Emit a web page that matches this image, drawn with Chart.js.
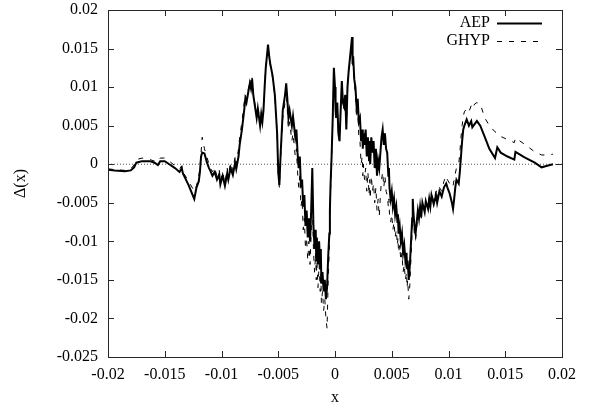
<!DOCTYPE html>
<html>
<head>
<meta charset="utf-8">
<script src="https://cdn.jsdelivr.net/npm/chart.js@4.4.1/dist/chart.umd.min.js"></script>
<style>
html,body{margin:0;padding:0;background:#fff;}
#wrap{width:591px;height:410px;}
</style>
</head>
<body>
<div id="wrap"><canvas id="c" width="591" height="410"></canvas></div>
<script>
const xValues = [
-0.0200,-0.0194,-0.0185,-0.0180,-0.0177,-0.0175,-0.0170,-0.0163,-0.0159,-0.0156,
-0.0154,-0.0150,-0.0146,-0.0141,-0.0137,-0.0135,-0.0134,-0.0129,-0.0124,-0.0122,
-0.0120,-0.0119,-0.0118,-0.0117,-0.0115,-0.0113,-0.0111,-0.0110,-0.0108,-0.0106,
-0.0104,-0.0102,-0.0101,-0.0099,-0.0097,-0.0095,-0.0094,-0.0092,-0.0090,-0.0088,
-0.0087,-0.0085,-0.0084,-0.0082,-0.0080,-0.0079,-0.0078,-0.0076,-0.0075,-0.0074,
-0.0073,-0.0072,-0.0071,-0.0069,-0.0068,-0.0066,-0.0065,-0.0064,-0.0063,-0.0062,
-0.0061,-0.0059,-0.0058,-0.0057,-0.0055,-0.0053,-0.0051,-0.0050,-0.0049,-0.0048,
-0.0046,-0.0044,-0.0043,-0.0042,-0.0041,-0.0040,-0.0038,-0.0037,-0.0035,-0.0034,
-0.0033,-0.0032,-0.0031,-0.0030,-0.0029,-0.0028,-0.0027,-0.0026,-0.0025,-0.0024,
-0.0023,-0.0022,-0.0021,-0.0020,-0.0019,-0.0018,-0.0017,-0.00165,-0.0016,-0.0015,
-0.0014,-0.0013,-0.00125,-0.0012,-0.0011,-0.0010,-0.0009,-0.0008,-0.0007,-0.0006,
-0.0005,-0.00045,-0.0004,-0.0003,-0.0002,-0.0001,0.0000,0.00005,0.0001,0.0002,
0.0003,0.0004,0.0005,0.0006,0.0007,0.0008,0.0009,0.0010,0.0011,0.0012,
0.0013,0.0014,0.0015,0.00155,0.0016,0.0017,0.0018,0.0019,0.0020,0.0021,
0.0022,0.0023,0.0024,0.00245,0.0025,0.0026,0.0027,0.0028,0.0029,0.0030,
0.00305,0.0031,0.0032,0.0033,0.0034,0.0035,0.0036,0.0037,0.0038,0.0039,
0.0040,0.0041,0.0042,0.0043,0.0044,0.0045,0.0046,0.0047,0.00475,0.0048,
0.0049,0.0050,0.0051,0.0052,0.0053,0.0054,0.0055,0.00555,0.0056,0.0057,
0.0058,0.0059,0.0060,0.0061,0.0062,0.0063,0.00635,0.0064,0.0065,0.0066,
0.0067,0.0068,0.00685,0.0069,0.0070,0.0071,0.0072,0.0073,0.0074,0.0075,
0.0076,0.0077,0.0079,0.0080,0.0082,0.0083,0.0084,0.0085,0.0087,0.0089,
0.0090,0.0092,0.0094,0.0096,0.0098,0.0099,0.0101,0.0103,0.0104,0.0105,
0.0106,0.0107,0.0109,0.0110,0.0111,0.0112,0.0113,0.0114,0.0116,0.0118,
0.0120,0.0121,0.0123,0.0125,0.0128,0.0132,0.0136,0.0141,0.0143,0.0146,
0.0152,0.0158,0.0159,0.0167,0.0176,0.0182,0.0187,0.0192
];
const aepValues = [
-0.0007,-0.0008,-0.0009,-0.0008,-0.0004,0.0002,0.0004,0.0004,0.0002,-0.0001,
0.0004,0.0004,0.0000,-0.0005,-0.0010,-0.0005,-0.0012,-0.0027,-0.0045,-0.0030,
-0.0022,-0.0010,0.0010,0.0015,0.0014,0.0003,-0.0005,-0.0008,-0.0015,-0.0010,
-0.0020,-0.0013,-0.0026,-0.0015,-0.0028,-0.0012,-0.0020,-0.0005,-0.0014,0.0002,
-0.0006,0.0010,0.0025,0.0045,0.0070,0.0085,0.0080,0.0097,0.0105,0.0098,
0.0110,0.0090,0.0080,0.0060,0.0072,0.0050,0.0065,0.0055,0.0070,0.0100,
0.0125,0.0155,0.0140,0.0130,0.0115,0.0090,0.0040,-0.0010,-0.0027,0.0010,
0.0070,0.0090,0.0105,0.0085,0.0060,0.0070,0.0050,0.0062,0.0035,0.0045,
0.0015,-0.0005,0.0010,-0.0030,-0.0020,-0.0055,-0.0040,-0.0080,-0.0060,-0.0095,
-0.0070,-0.0100,-0.0060,-0.0005,-0.0080,-0.0110,-0.0085,-0.0125,-0.0095,-0.0130,
-0.0100,-0.0135,-0.0110,-0.0155,-0.0140,-0.0165,-0.0150,-0.0175,-0.0160,-0.0120,
-0.0090,-0.0060,-0.0030,0.0010,0.0060,0.0125,0.0100,0.0070,0.0060,0.0080,
0.0040,0.0030,0.0070,0.0108,0.0080,0.0075,0.0090,0.0045,0.0100,0.0120,
0.0135,0.0150,0.0165,0.0130,0.0140,0.0110,0.0100,0.0075,0.0085,0.0055,
0.0060,0.0030,0.0045,0.0020,0.0040,0.0025,0.0045,0.0010,0.0035,0.0005,
0.0030,0.0000,0.0035,0.0015,0.0030,-0.0005,0.0020,-0.0015,0.0005,-0.0005,
0.0015,0.0035,0.0045,0.0025,0.0040,0.0020,0.0015,-0.0015,-0.0005,-0.0030,
-0.0045,-0.0035,-0.0055,-0.0045,-0.0065,-0.0055,-0.0075,-0.0065,-0.0090,-0.0080,
-0.0100,-0.0090,-0.0115,-0.0105,-0.0125,-0.0115,-0.0135,-0.0125,-0.0150,-0.0130,
-0.0100,-0.0070,-0.0045,-0.0060,-0.0080,-0.0090,-0.0075,-0.0060,-0.0070,-0.0055,
-0.0068,-0.0050,-0.0062,-0.0048,-0.0058,-0.0045,-0.0055,-0.0040,-0.0052,-0.0040,
-0.0050,-0.0035,-0.0042,-0.0030,-0.0025,-0.0030,-0.0038,-0.0050,-0.0058,-0.0045,
-0.0030,-0.0020,-0.0025,-0.0010,0.0010,0.0030,0.0045,0.0050,0.0058,0.0050,
0.0056,0.0048,0.0052,0.0056,0.0050,0.0035,0.0020,0.0008,0.0022,0.0015,
0.0010,0.0006,0.0016,0.0009,0.0002,-0.0004,-0.0002,0.0000
];
const ghypValues = [
-0.0006,-0.0007,-0.0008,-0.0006,-0.0001,0.0006,0.0008,0.0006,0.0004,0.0003,
0.0008,0.0008,0.0004,-0.0002,-0.0006,-0.0002,-0.0010,-0.0022,-0.0035,-0.0028,
-0.0015,-0.0005,0.0015,0.0035,0.0020,0.0010,0.0000,-0.0004,-0.0010,-0.0004,
-0.0016,-0.0008,-0.0022,-0.0010,-0.0025,-0.0005,-0.0014,0.0002,-0.0008,0.0010,
0.0000,0.0020,0.0035,0.0055,0.0080,0.0090,0.0085,0.0100,0.0110,0.0102,
0.0112,0.0095,0.0082,0.0065,0.0075,0.0055,0.0068,0.0058,0.0072,0.0100,
0.0125,0.0152,0.0142,0.0128,0.0112,0.0088,0.0040,-0.0012,-0.0030,0.0005,
0.0060,0.0080,0.0095,0.0070,0.0045,0.0055,0.0030,0.0040,0.0010,0.0020,
-0.0010,-0.0030,-0.0015,-0.0055,-0.0045,-0.0085,-0.0070,-0.0110,-0.0095,-0.0125,
-0.0100,-0.0130,-0.0090,-0.0040,-0.0110,-0.0140,-0.0115,-0.0150,-0.0125,-0.0160,
-0.0130,-0.0165,-0.0140,-0.0180,-0.0165,-0.0190,-0.0175,-0.0200,-0.0213,-0.0150,
-0.0110,-0.0075,-0.0040,0.0005,0.0055,0.0120,0.0098,0.0068,0.0058,0.0078,
0.0040,0.0030,0.0068,0.0105,0.0078,0.0072,0.0088,0.0045,0.0098,0.0118,
0.0132,0.0148,0.0160,0.0128,0.0135,0.0105,0.0090,0.0060,0.0070,0.0035,
0.0030,0.0000,0.0010,-0.0015,0.0000,-0.0020,-0.0005,-0.0035,-0.0010,-0.0040,
-0.0020,-0.0045,-0.0015,-0.0035,-0.0025,-0.0050,-0.0030,-0.0060,-0.0045,-0.0068,
-0.0040,-0.0020,-0.0010,-0.0030,-0.0015,-0.0035,-0.0040,-0.0055,-0.0045,-0.0065,
-0.0075,-0.0065,-0.0085,-0.0075,-0.0095,-0.0085,-0.0105,-0.0095,-0.0115,-0.0105,
-0.0125,-0.0115,-0.0140,-0.0130,-0.0150,-0.0140,-0.0160,-0.0150,-0.0175,-0.0155,
-0.0120,-0.0085,-0.0060,-0.0075,-0.0090,-0.0098,-0.0082,-0.0065,-0.0072,-0.0058,
-0.0070,-0.0052,-0.0062,-0.0048,-0.0056,-0.0043,-0.0052,-0.0038,-0.0048,-0.0035,
-0.0045,-0.0030,-0.0035,-0.0022,-0.0015,-0.0020,-0.0025,-0.0030,-0.0028,-0.0020,
-0.0012,-0.0005,0.0000,0.0015,0.0035,0.0050,0.0062,0.0068,0.0072,0.0068,
0.0076,0.0072,0.0078,0.0080,0.0078,0.0060,0.0050,0.0042,0.0040,0.0036,
0.0032,0.0028,0.0034,0.0026,0.0016,0.0012,0.0012,0.0013
];
const zeroLineX = [-0.02, 0.02];
const zeroLineY = [0, 0];
const xTickValues = [-0.02,-0.015,-0.01,-0.005,0,0.005,0.01,0.015,0.02];
const xTickLabels = ['-0.02','-0.015','-0.01','-0.005','0','0.005','0.01','0.015','0.02'];
const yTickValues = [-0.025,-0.02,-0.015,-0.01,-0.005,0,0.005,0.01,0.015,0.02];
const yTickLabels = ['-0.025','-0.02','-0.015','-0.01','-0.005','0','0.005','0.01','0.015','0.02'];
const seriesNames = ['AEP','GHYP'];

const FONT = '"Liberation Serif", "Times New Roman", serif';
const FSIZE = 16;
const FRAME = '#262626';

const framePlugin = {
  id: 'frame',
  afterDraw(chart) {
    const ctx = chart.ctx;
    const a = chart.chartArea;
    const scX = chart.scales.x, scY = chart.scales.y;
    ctx.save();
    ctx.strokeStyle = FRAME;
    ctx.lineWidth = 1;
    ctx.setLineDash([]);
    ctx.strokeRect(a.left + 0.5, a.top + 0.5, a.right - a.left, a.bottom - a.top);
    const tl = 6;
    xTickValues.forEach(v => {
      const px = Math.round(scX.getPixelForValue(v)) + 0.5;
      ctx.beginPath();
      ctx.moveTo(px, a.bottom); ctx.lineTo(px, a.bottom - tl);
      ctx.moveTo(px, a.top); ctx.lineTo(px, a.top + tl);
      ctx.stroke();
    });
    yTickValues.forEach(v => {
      const py = Math.round(scY.getPixelForValue(v)) + 0.5;
      ctx.beginPath();
      ctx.moveTo(a.left, py); ctx.lineTo(a.left + tl, py);
      ctx.moveTo(a.right, py); ctx.lineTo(a.right - tl, py);
      ctx.stroke();
    });
    // legend
    ctx.font = FSIZE + 'px ' + FONT;
    ctx.fillStyle = '#000';
    ctx.strokeStyle = '#000';
    ctx.textAlign = 'right';
    ctx.textBaseline = 'middle';
    const lx = a.right - 72, lx0 = a.right - 65, lx1 = a.right - 20;
    const rows = [a.top + 13, a.top + 31];
    chart.data.datasets.slice(0, 2).forEach((ds, i) => {
      ctx.fillText(seriesNames[i], lx, rows[i]);
      ctx.beginPath();
      ctx.lineWidth = ds.borderWidth;
      ctx.setLineDash(ds.borderDash || []);
      ctx.moveTo(lx0, Math.round(rows[i]) + 0.5); ctx.lineTo(lx1, Math.round(rows[i]) + 0.5);
      ctx.stroke();
    });
    ctx.restore();
  }
};

new Chart(document.getElementById('c'), {
  type: 'line',
  data: {
    datasets: [
      { label: seriesNames[0], data: xValues.map((x, i) => ({x, y: aepValues[i]})),
        borderColor: '#000', borderWidth: 2, pointRadius: 0, tension: 0, fill: false },
      { label: seriesNames[1], data: xValues.map((x, i) => ({x, y: ghypValues[i]})),
        borderColor: '#000', borderWidth: 1, borderDash: [5, 7], pointRadius: 0, tension: 0, fill: false },
      { label: 'zero', data: zeroLineX.map((x, i) => ({x, y: zeroLineY[i]})),
        borderColor: '#555', borderWidth: 1, borderDash: [1, 2], pointRadius: 0, fill: false }
    ]
  },
  options: {
    responsive: false,
    animation: false,
    devicePixelRatio: 1,
    layout: { padding: { left: 0, right: 29, top: 10, bottom: 0 } },
    plugins: { legend: { display: false }, tooltip: { enabled: false } },
    scales: {
      x: {
        type: 'linear', min: -0.02, max: 0.02,
        grid: { display: false, drawTicks: false },
        border: { display: true, color: FRAME, width: 1 },
        afterBuildTicks: s => { s.ticks = xTickValues.map(v => ({value: v})); },
        afterFit: s => { s.height = 53; s.paddingLeft = 0; s.paddingRight = 0; },
        ticks: {
          color: '#000', font: { family: FONT, size: FSIZE }, padding: 8, maxRotation: 0, autoSkip: false,
          callback: (v, i) => xTickLabels[i]
        },
        title: { display: true, text: 'x', color: '#000', font: { family: FONT, size: FSIZE }, padding: { top: 0, bottom: 3 } }
      },
      y: {
        type: 'linear', min: -0.025, max: 0.02,
        grid: { display: false, drawTicks: false },
        border: { display: true, color: FRAME, width: 1 },
        afterBuildTicks: s => { s.ticks = yTickValues.map(v => ({value: v})); },
        afterFit: s => { s.width = 108; s.paddingTop = 0; s.paddingBottom = 0; },
        ticks: {
          color: '#000', font: { family: FONT, size: FSIZE }, padding: 10, autoSkip: false,
          callback: (v, i) => yTickLabels[i]
        },
        title: { display: true, text: 'Δ(x)', color: '#000', font: { family: FONT, size: FSIZE }, padding: { top: 11, bottom: 0 } }
      }
    }
  },
  plugins: [framePlugin]
});
</script>
</body>
</html>
